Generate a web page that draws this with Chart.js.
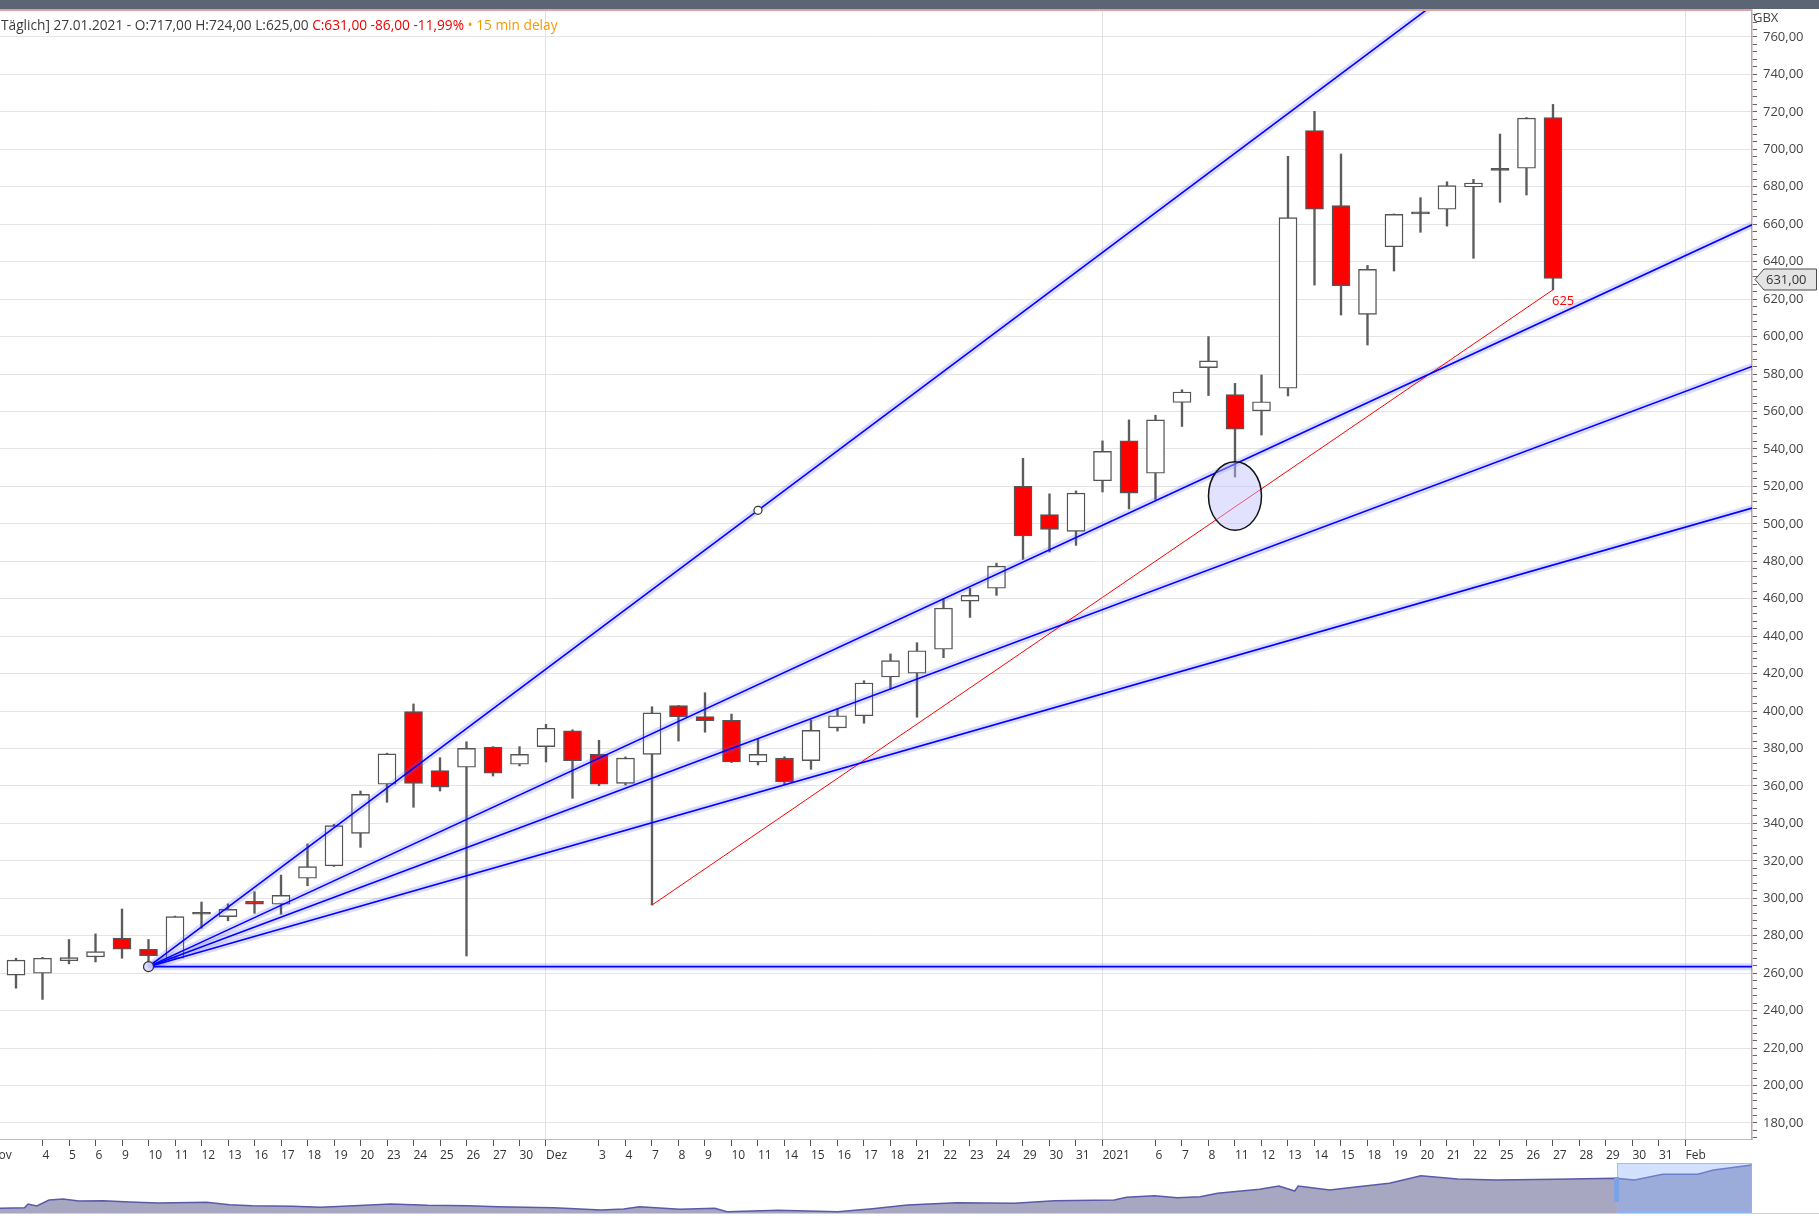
<!DOCTYPE html>
<html lang="de">
<head>
<meta charset="utf-8">
<title>Kerzenchart GBX</title>
<script src="https://cdn.jsdelivr.net/npm/chart.js@4.4.1/dist/chart.umd.min.js"></script>
<style>
  html, body { margin: 0; padding: 0; background: #fff; overflow: hidden; }
  #rahmen { position: relative; width: 1819px; height: 1216px; }
  #haupt { position: absolute; left: 0; top: 0; }
  #navi { position: absolute; left: 0; top: 1163px; }
  #balken { position: absolute; left: 0; top: 0; width: 1819px; height: 9px; background: #5b6573; }
  #info { position: absolute; left: 1px; top: 17px; font: 13.7px "Open Sans", sans-serif; color: #3c3c3c; white-space: nowrap; line-height: 16px; }
  #info .rot { color: #f00000; }
  #info .orange { color: #f59a00; }
</style>
</head>
<body>
<div id="rahmen">
  <canvas id="haupt" width="1819" height="1163"></canvas>
  <canvas id="navi" width="1819" height="53"></canvas>
  <div id="balken"></div>
  <div id="info">Täglich] 27.01.2021 - O:717,00 H:724,00 L:625,00 <span class="rot">C:631,00 -86,00 -11,99%</span><span class="orange"> • 15 min delay</span></div>
</div>
<script>
// beschriftung x-achse, erster eintrag = 2. Nov (links ausserhalb), dann ab 3. Nov jeder handelstag
var achsenTage = ['Nov', '', '4', '5', '6', '9', '10', '11', '12', '13', '16', '17', '18', '19', '20', '23', '24', '25', '26', '27', '30',
  'Dez', '', '3', '4', '7', '8', '9', '10', '11', '14', '15', '16', '17', '18', '21', '22', '23', '24', '29', '30', '31',
  '2021', '', '6', '7', '8', '11', '12', '13', '14', '15', '18', '19', '20', '21', '22', '25', '26', '27',
  '28', '29', '30', '31', 'Feb'];

// kurse, index 0 = 3. Nov 2020
var eroeffnung = [259, 260, 266.7, 268.7, 278.8, 272.8, 268, 291.5, 290.2, 298.4,
  296.8, 310.7, 317.4, 334.7, 360.9, 399.7, 368.2, 370, 380.8, 371.6,
  381, 389.5, 376.9, 361.4, 376.9, 402.9, 397, 395.1, 372.8, 374.9,
  373.5, 391, 397.5, 418.2, 420.2, 433, 458.7, 465.6, 520, 505,
  496, 523, 544.3, 527, 564.8, 583.4, 569, 560.3, 572.4, 710,
  669.9, 611.9, 648, 665.5, 668, 679.9, 688.8, 689.9, 717];
var hoch = [268, 268.5, 278, 281, 294.3, 278, 290.5, 298, 297, 303.5,
  312.4, 329, 339.5, 357.3, 377.5, 403.8, 375.1, 383.6, 381, 381,
  392.9, 390, 384.4, 375.5, 402.3, 403, 409.8, 398.4, 384.9, 375.6,
  395.2, 401.1, 416.2, 430.5, 436.5, 460, 465.5, 479, 535, 516,
  517.6, 544.3, 555.5, 558, 571.6, 600, 575, 579.5, 696.3, 720.3,
  697.5, 638, 665.5, 674.2, 682.7, 684, 708.2, 717, 724];
var tief = [252, 246, 265, 266, 268, 263.5, 267.5, 284, 288, 292,
  291.5, 306.7, 317, 327.2, 351.3, 348.6, 357.3, 269.2, 365.3, 370.7,
  372.8, 353.4, 360.1, 360.5, 296.4, 384, 388.7, 372.5, 371.2, 361,
  368.9, 389.3, 393.5, 411.6, 396.7, 428.5, 450, 461.8, 481, 485,
  488.5, 517, 508, 513, 552, 568.5, 525, 547.4, 568.3, 627.5,
  611.5, 595.5, 635, 655.7, 659, 641.8, 671.7, 675.6, 625];
var schluss = [267, 268, 268.3, 271.5, 272.8, 269.4, 290.2, 291.5, 294.1, 296.8,
  301.6, 316.9, 338.8, 355.5, 377.1, 361.4, 359.4, 380.1, 366.8, 376.9,
  390.8, 373.5, 360.9, 374.9, 399, 397, 394.9, 372.8, 376.9, 362.1,
  389.7, 397.5, 415, 426.9, 432.2, 455, 461.8, 477.4, 493.5, 497,
  516.4, 538.7, 516.4, 555.5, 570.4, 587, 550.5, 565.2, 663.5, 668,
  627.2, 635.9, 665.3, 665.5, 680.6, 682, 688.8, 716.7, 631];

// fibonacci faecher: startpunkt, zielpunkt (tag, kurs) und stufen
var fanStart = [5, 263.5];
var fanZiel = [28, 507.2];
var fanStufen = [1, 0.618, 0.5, 0.382, 0];

// rote trendlinie
var trendStart = [24, 296.4];
var trendEnde = [58, 625];

// ellipse: tage von/bis und kurse von/bis
var ellipseTage = [45, 47];
var ellipseKurse = [496.6, 533.2];

// navigator unten (position in % der historie, hoehe)
var naviPos = [0, 1.4, 1.6, 2.1, 2.8, 3.6, 4.5, 5.9, 7.4, 9.0, 11.8, 13.1, 14.4, 16.7, 18.3, 19.9,
  22.3, 24.4, 26.7, 28.4, 31.6, 34.3, 35.6, 36.5, 38.8, 40.8, 41.5, 44.4, 47.8, 49.8, 51.8,
  54.6, 57.9, 60.2, 63.6, 64.3, 65.9, 67.2, 68.5, 69.5, 71.9, 73.0, 73.9, 74.1, 75.9, 77.5,
  79.3, 81.1, 83.2, 85.4, 88.8, 92.2, 93.3, 94.9, 96.9, 97.8, 100];
var naviWerte = [4.7, 5.3, 9, 7, 13, 14, 12, 12.3, 11, 10, 10.7, 8.3, 7.3, 6.7, 5.7, 7,
  9, 7.7, 7.3, 6.3, 5.3, 3, 4, 6.3, 3.7, 4.7, 1.3, 2.7, 1.3, 4.3, 8,
  10.3, 9.7, 12.3, 13, 15.7, 17.3, 15.3, 16.3, 19.7, 23.7, 27, 22, 27, 23, 26.3,
  29.7, 37.3, 34, 33, 33.7, 34.7, 33, 38.7, 38.7, 43, 48];
var naviFenster = [92.3, 100];

// sichtbarer bereich
var xMin = -0.604, xMax = 65.51;
var yMin = 171.45, yMax = 774.42;

// formatiert 760 -> 760,00
function formatKurs(wert) {
  return wert.toFixed(2).replace('.', ',');
}

// kerzen bauen
var dochte = [];
var koerper = [];
var koerperFarben = [];
for (var i = 0; i < schluss.length; i++) {
  dochte.push({ x: i, y: [tief[i], hoch[i]] });
  koerper.push({ x: i, y: [eroeffnung[i], schluss[i]] });
  if (schluss[i] > eroeffnung[i]) {
    koerperFarben.push('#ffffff');
  } else if (schluss[i] < eroeffnung[i]) {
    koerperFarben.push('#ff0000');
  } else {
    koerperFarben.push('#444444');
  }
}

var datensaetze = [
  { type: 'bar', data: dochte, backgroundColor: '#5c5c5c', barThickness: 1.7, grouped: false, order: 6 },
  { type: 'bar', data: koerper, backgroundColor: koerperFarben, borderColor: '#555555', borderWidth: 1.4,
    borderSkipped: false, minBarLength: 2, barThickness: 18, grouped: false, order: 5 }
];

// faecherlinien bis zum rechten rand verlaengern
var steigung = (fanZiel[1] - fanStart[1]) / (fanZiel[0] - fanStart[0]);
for (var s = 0; s < fanStufen.length; s++) {
  var punkte = [
    { x: fanStart[0], y: fanStart[1] },
    { x: xMax, y: fanStart[1] + fanStufen[s] * steigung * (xMax - fanStart[0]) }
  ];
  // heller schein
  datensaetze.push({ type: 'line', data: punkte, borderColor: 'rgba(90,90,255,0.22)', borderWidth: 7, pointRadius: 0, order: 3 });
  datensaetze.push({ type: 'line', data: punkte, borderColor: '#0000ff', borderWidth: 1.6, pointRadius: 0, order: 2 });
}

// rote linie
datensaetze.push({ type: 'line', data: [{ x: trendStart[0], y: trendStart[1] }, { x: trendEnde[0], y: trendEnde[1] }],
  borderColor: '#ff0000', borderWidth: 1, pointRadius: 0, order: 2 });

// kreise am faecher
datensaetze.push({ type: 'line', showLine: false, data: [{ x: fanStart[0], y: fanStart[1] }, { x: fanZiel[0], y: fanZiel[1] }],
  pointRadius: [5, 4], pointBackgroundColor: ['rgba(215,215,255,0.9)', '#ffffff'], pointBorderColor: '#333333',
  pointBorderWidth: 1.2, order: 0 });

// zusatzzeug: ellipse, label 625, rahmen, preisschild
var extras = {
  id: 'extras',
  afterDatasetsDraw: function(chart) {
    var ctx = chart.ctx;
    var xs = chart.scales.x;
    var ys = chart.scales.y;
    ctx.save();
    ctx.beginPath();
    ctx.rect(chart.chartArea.left, chart.chartArea.top, chart.chartArea.right - chart.chartArea.left, chart.chartArea.bottom - chart.chartArea.top);
    ctx.clip();

    var ex1 = xs.getPixelForValue(ellipseTage[0]);
    var ex2 = xs.getPixelForValue(ellipseTage[1]);
    var ey1 = ys.getPixelForValue(ellipseKurse[1]);
    var ey2 = ys.getPixelForValue(ellipseKurse[0]);
    ctx.beginPath();
    ctx.ellipse((ex1 + ex2) / 2, (ey1 + ey2) / 2, (ex2 - ex1) / 2, (ey2 - ey1) / 2, 0, 0, Math.PI * 2);
    ctx.fillStyle = 'rgba(190,190,255,0.45)';
    ctx.fill();
    ctx.lineWidth = 1.5;
    ctx.strokeStyle = '#111111';
    ctx.stroke();

    // wert am ende der roten linie
    ctx.fillStyle = '#ff0000';
    ctx.font = '13px "Open Sans", sans-serif';
    ctx.textAlign = 'left';
    ctx.textBaseline = 'middle';
    ctx.fillText(String(trendEnde[1]), xs.getPixelForValue(trendEnde[0]) - 1, ys.getPixelForValue(trendEnde[1]) + 12);
    ctx.restore();
  },
  afterDraw: function(chart) {
    var ctx = chart.ctx;
    var fl = chart.chartArea;
    var ys = chart.scales.y;
    ctx.save();
    // oberer rand
    ctx.strokeStyle = '#d9a3a3';
    ctx.lineWidth = 2;
    ctx.beginPath();
    ctx.moveTo(0, fl.top);
    ctx.lineTo(fl.right, fl.top);
    ctx.stroke();

    // waehrung
    ctx.fillStyle = '#444444';
    ctx.font = '13px "Open Sans", sans-serif';
    ctx.textAlign = 'left';
    ctx.textBaseline = 'middle';
    ctx.fillText('GBX', fl.right + 1, fl.top + 8);

    // preisschild letzter kurs
    var letzter = schluss[schluss.length - 1];
    var py = Math.round(ys.getPixelForValue(letzter)) + 0.5;
    var links = fl.right + 3;
    var rechts = chart.width - 2.5;
    ctx.beginPath();
    ctx.moveTo(links, py);
    ctx.lineTo(links + 9, py - 10.5);
    ctx.lineTo(rechts, py - 10.5);
    ctx.lineTo(rechts, py + 10.5);
    ctx.lineTo(links + 9, py + 10.5);
    ctx.closePath();
    ctx.fillStyle = '#e4e4e4';
    ctx.fill();
    ctx.strokeStyle = '#4a4a4a';
    ctx.lineWidth = 1;
    ctx.stroke();
    ctx.fillStyle = '#333333';
    ctx.fillText(formatKurs(letzter), links + 11, py + 0.5);
    ctx.restore();
  }
};

new Chart(document.getElementById('haupt'), {
  type: 'bar',
  data: { datasets: datensaetze },
  options: {
    responsive: false,
    animation: false,
    events: [],
    layout: { autoPadding: false, padding: { top: 10, left: 0, right: 0, bottom: 0 } },
    plugins: {
      legend: { display: false },
      tooltip: { enabled: false }
    },
    scales: {
      x: {
        type: 'linear',
        min: xMin,
        max: xMax,
        offset: false,
        afterBuildTicks: function(achse) {
          var liste = [];
          for (var k = 0; k < achsenTage.length; k++) {
            if (achsenTage[k] !== '') liste.push({ value: k - 1 });
          }
          achse.ticks = liste;
        },
        // keine extra-raender wegen der beschriftung
        afterFit: function(achse) {
          achse.height = 24;
          achse.paddingLeft = 0;
          achse.paddingRight = 0;
        },
        ticks: {
          autoSkip: false,
          maxRotation: 0,
          minRotation: 0,
          align: 'start',
          padding: 2,
          color: '#333333',
          font: { family: '"Open Sans", sans-serif', size: 12 },
          callback: function(wert) { return achsenTage[Math.round(wert) + 1]; }
        },
        grid: {
          offset: false,
          tickLength: 7,
          tickColor: '#555555',
          color: function(c) {
            var t = c.tick ? achsenTage[Math.round(c.tick.value) + 1] : '';
            return (t === 'Dez' || t === '2021' || t === 'Feb') ? '#e2e2e2' : 'rgba(0,0,0,0)';
          }
        },
        border: { color: '#bcbcbc', width: 1 }
      },
      y: {
        position: 'right',
        min: yMin,
        max: yMax,
        afterFit: function(achse) {
          achse.width = 67;
          achse.paddingTop = 0;
          achse.paddingBottom = 0;
        },
        ticks: {
          stepSize: 4,
          includeBounds: false,
          autoSkip: false,
          padding: 6,
          color: '#444444',
          font: { family: '"Open Sans", sans-serif', size: 13 },
          callback: function(wert) {
            return Math.round(wert) % 20 === 0 ? formatKurs(wert) : '';
          }
        },
        grid: {
          tickLength: 5,
          tickColor: '#666666',
          color: function(c) {
            return (c.tick && Math.round(c.tick.value) % 20 === 0) ? '#e4e4e4' : 'rgba(0,0,0,0)';
          }
        },
        border: { color: '#c4a4a4', width: 1.5 }
      }
    }
  },
  plugins: [extras]
});

// navigator fenster
var fensterPlugin = {
  id: 'fenster',
  afterDatasetsDraw: function(chart) {
    var ctx = chart.ctx;
    var xs = chart.scales.x;
    var fl = chart.chartArea;
    var a = xs.getPixelForValue(naviFenster[0]);
    var b = xs.getPixelForValue(naviFenster[1]);
    ctx.save();
    ctx.fillStyle = 'rgba(140,180,255,0.4)';
    ctx.fillRect(a, fl.top, b - a, fl.bottom - fl.top);
    ctx.strokeStyle = 'rgba(140,180,255,0.8)';
    ctx.lineWidth = 1;
    ctx.strokeRect(a + 0.5, fl.top + 0.5, b - a - 1, fl.bottom - fl.top - 1);
    ctx.fillStyle = '#7aa2e8';
    ctx.fillRect(a - 3, fl.top + 14, 5, 25);
    // unterer strich
    ctx.strokeStyle = '#d0d0d0';
    ctx.beginPath();
    ctx.moveTo(0, fl.bottom + 0.5);
    ctx.lineTo(chart.width, fl.bottom + 0.5);
    ctx.stroke();
    ctx.restore();
  }
};

var naviPunkte = [];
for (var n = 0; n < naviPos.length; n++) {
  naviPunkte.push({ x: naviPos[n], y: naviWerte[n] });
}

new Chart(document.getElementById('navi'), {
  type: 'line',
  data: {
    datasets: [{
      data: naviPunkte,
      borderColor: '#5a5aa8',
      borderWidth: 1.5,
      backgroundColor: '#a7a7c1',
      fill: 'start',
      pointRadius: 0,
      tension: 0
    }]
  },
  options: {
    responsive: false,
    animation: false,
    events: [],
    layout: { autoPadding: false, padding: { left: 0, right: 67, top: 0, bottom: 3 } },
    plugins: { legend: { display: false }, tooltip: { enabled: false } },
    scales: {
      x: { type: 'linear', min: 0, max: 100, display: false },
      y: { min: 0, max: 50, display: false }
    }
  },
  plugins: [fensterPlugin]
});
</script>
</body>
</html>
